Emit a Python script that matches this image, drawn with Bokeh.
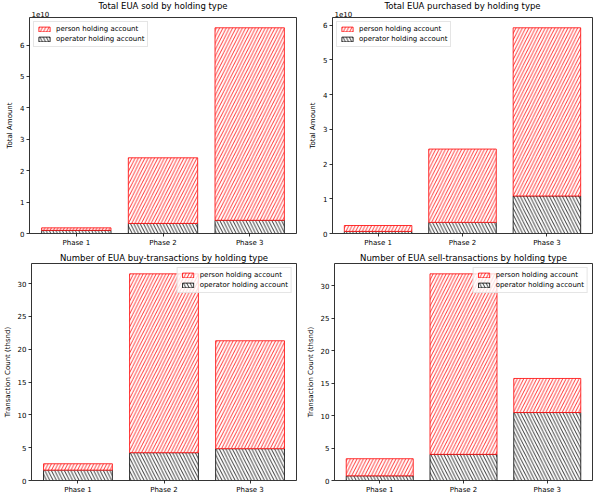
from bokeh.plotting import figure
from bokeh.models import (Range1d, FactorRange, SingleIntervalTicker, Legend, LegendItem,
                          Title, CustomJSTickFormatter, ColumnDataSource)
from bokeh.layouts import column, row
from bokeh.embed import file_html
from bokeh.resources import INLINE

phases = ["Phase 1", "Phase 2", "Phase 3"]

sold_operator = [0.10e10, 0.32e10, 0.42e10]
sold_person = [0.08e10, 2.09e10, 6.13e10]

purch_operator = [0.06e10, 0.32e10, 1.08e10]
purch_person = [0.17e10, 2.11e10, 4.84e10]

buy_operator = [1.58, 4.24, 4.85]
buy_person = [0.97, 27.26, 16.45]

sell_operator = [0.72, 4.02, 10.46]
sell_person = [2.63, 27.78, 5.24]

FONT = "DejaVu Sans"
PAD = 0.08 / 3


def panel(title, op, pe, ylabel, sci, interval, legend_loc, width, height,
          bl, br, bt, bb, standoff):
    total = [a + b for a, b in zip(op, pe)]
    src = ColumnDataSource(dict(phase=phases, op=op, pe=pe, total=total,
                                zero=[0] * len(op)))
    ymax = max(total) * 1.05
    p = figure(x_range=FactorRange(factors=phases, range_padding=PAD),
               y_range=Range1d(0, ymax), width=width, height=height,
               output_backend="svg", toolbar_location=None,
               min_border_left=bl, min_border_right=br,
               min_border_top=bt, min_border_bottom=bb)
    if sci:
        p.add_layout(Title(text="1e10", align="left", text_font=FONT,
                           text_font_size="7px", text_font_style="normal",
                           text_color="black", standoff=1, offset=2), "above")
    p.title.text = title
    p.title.align = "center"
    p.title.text_font = FONT
    p.title.text_font_size = "8.5px"
    p.title.text_font_style = "normal"
    p.title.text_color = "black"
    try:
        p.title.standoff = standoff
    except Exception:
        p.title.standoff = 0
    p.title.offset = 0
    p.xgrid.visible = False
    p.ygrid.visible = False
    p.outline_line_color = "black"
    p.outline_line_alpha = 1
    p.outline_line_width = 0.8

    r_op = p.vbar(x="phase", bottom="zero", top="op", width=0.8, source=src,
                  fill_color="white", line_color="black", line_width=0.8,
                  hatch_pattern="\\", hatch_color="black", hatch_scale=6.5,
                  hatch_weight=0.8)
    r_pe = p.vbar(x="phase", bottom="op", top="total", width=0.8, source=src,
                  fill_color="white", line_color="red", line_width=0.8,
                  hatch_pattern="/", hatch_color="red", hatch_scale=6.5,
                  hatch_weight=0.8)

    for ax in (p.xaxis[0], p.yaxis[0]):
        ax.major_label_text_font = FONT
        ax.major_label_text_font_size = "7px"
        ax.major_label_text_color = "black"
        ax.axis_label_text_font = FONT
        ax.axis_label_text_font_size = "7px"
        ax.axis_label_text_font_style = "normal"
        ax.axis_label_text_color = "black"
        ax.major_tick_out = 3
        ax.major_tick_in = 0
        ax.minor_tick_out = 0
        ax.minor_tick_in = 0
        ax.major_label_standoff = 2
        ax.major_tick_line_color = "black"
        ax.major_tick_line_width = 0.8
        ax.axis_line_color = None
    p.yaxis.axis_label = ylabel
    p.yaxis.axis_label_standoff = 3
    p.yaxis.ticker = SingleIntervalTicker(interval=interval)
    if sci:
        p.yaxis.formatter = CustomJSTickFormatter(code="return (tick/1e10).toFixed(0);")

    legend = Legend(items=[LegendItem(label="person holding account", renderers=[r_pe]),
                           LegendItem(label="operator holding account", renderers=[r_op])],
                    location=legend_loc)
    legend.label_text_font = FONT
    legend.label_text_font_size = "7px"
    legend.label_text_color = "black"
    legend.glyph_width = 14
    legend.glyph_height = 6
    legend.label_height = 8
    legend.label_standoff = 5
    legend.spacing = 2
    legend.padding = 3
    legend.margin = 4
    legend.border_line_color = "#cccccc"
    legend.border_line_width = 0.8
    legend.background_fill_alpha = 0.8
    p.add_layout(legend)
    return p


p1 = panel("Total EUA sold by holding type", sold_operator, sold_person,
           "Total Amount", True, 1e10, "top_left", 306, 249, 29, 10, 0, 14, -4)
p2 = panel("Total EUA purchased by holding type", purch_operator, purch_person,
           "Total Amount", True, 1e10, "top_left", 294, 249, 23, 8, 0, 14, -4)
p3 = panel("Number of EUA buy-transactions by holding type", buy_operator, buy_person,
           "Transaction Count (thsnd)", False, 5, "top_right", 303, 251, 30, 7, 0, 20, 2)
p4 = panel("Number of EUA sell-transactions by holding type", sell_operator, sell_person,
           "Transaction Count (thsnd)", False, 5, "top_right", 297, 251, 26, 8, 0, 20, 2)

layout = column(row(p1, p2), row(p3, p4))
open("out.html", "w").write(file_html(layout, INLINE))
